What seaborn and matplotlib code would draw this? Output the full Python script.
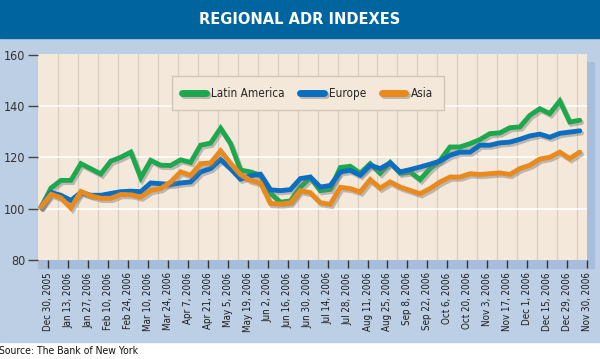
import numpy as np
import pandas as pd
import matplotlib
matplotlib.use("Agg")
import matplotlib.pyplot as plt
import matplotlib.patheffects as pe
from matplotlib.patches import Rectangle
import seaborn as sns

# ---- data (weekly index values) ----
regions = ["Latin America", "Europe", "Asia"]
colors = ["#1ea84e", "#0b6ec0", "#e88a1e"]

latin = [100.5, 108, 111, 111, 117.5, 115.5, 113.5, 118.5, 120, 122,
         112, 118.8, 116.9, 116.8, 119, 118, 124.7, 125.5, 131.3, 125.3,
         115, 114.3, 113, 106, 102.5, 103, 108.4, 112, 107, 107.5,
         116, 116.5, 113.8, 117.5, 113.8, 118, 113.8, 114.3, 111.3, 115.6,
         118.8, 124, 124, 125.3, 126.9, 129.2, 129.5, 131.5, 131.8, 136.3,
         138.9, 137, 141.9, 133.7, 134.4]
europe = [100.6, 106.3, 105.2, 103.2, 106.3, 105.2, 105.2, 105.9, 106.6, 106.8,
          106.6, 110, 109.7, 109.4, 110, 110.4, 114.3, 115.6, 119.1, 115.6,
          111.5, 112.8, 113.4, 107.3, 107, 107.4, 111.7, 112.3, 108.4, 109,
          114.3, 114.9, 113, 116.9, 115.6, 117.8, 114.3, 115.2, 116.2, 117.3,
          118.5, 120.8, 122, 122, 124.7, 124.7, 125.6, 125.9, 127, 128.3,
          129, 127.8, 129.3, 129.8, 130.3]
asia = [100.6, 105.6, 104.2, 100.3, 106.7, 105, 104, 104, 105.5, 105.4,
        104.5, 107.1, 107.8, 110.4, 114.3, 113, 117.5, 117.8, 122.5, 117.6,
        113.3, 111, 110, 102, 101.8, 102.2, 107, 106.2, 102.3, 101.7,
        108.3, 107.8, 106.5, 111.3, 108, 110.4, 108.4, 107.1, 105.8, 107.8,
        110.4, 112.3, 112.3, 113.6, 113.3, 113.6, 113.9, 113.3, 115.6, 116.9,
        119.3, 120, 122, 119.5, 122]

tick_labels = ["Dec 30, 2005", "Jan 13, 2006", "Jan 27, 2006", "Feb 10, 2006",
               "Feb 24, 2006", "Mar 10, 2006", "Mar 24, 2006", "Apr 7, 2006",
               "Apr 21, 2006", "May 5, 2006", "May 19, 2006", "Jun 2, 2006",
               "Jun 16, 2006", "Jun 30, 2006", "Jul 14, 2006", "Jul 28, 2006",
               "Aug 11, 2006", "Aug 25, 2006", "Sep 8, 2006", "Sep 22, 2006",
               "Oct 6, 2006", "Oct 20, 2006", "Nov 3, 2006", "Nov 17, 2006",
               "Dec 1, 2006", "Dec 15, 2006", "Dec 29, 2006", "Nov 30, 2006"]
y_ticks = [80, 100, 120, 140, 160]

weeks = np.arange(len(latin))
df = pd.DataFrame({
    "week": np.tile(weeks, 3),
    "value": np.concatenate([latin, europe, asia]),
    "region": np.repeat(regions, len(weeks)),
})

sns.set_theme(style="white")
plt.rcParams["font.family"] = ["DejaVu Sans"]
plt.rcParams["font.stretch"] = "condensed"

W, H = 600, 359
fig = plt.figure(figsize=(6, 3.59), dpi=100, facecolor="white")


def fx(px):
    return px / W


def fy(py):
    return 1 - py / H


# background panels
fig.patches.append(Rectangle((0, fy(342)), 1, (342 - 38) / H, transform=fig.transFigure,
                             color="#bdcfe4", zorder=-3))
fig.patches.append(Rectangle((0, fy(38)), 1, 38 / H, transform=fig.transFigure,
                             color="#00659e", zorder=-2))
fig.patches.append(Rectangle((fx(38), fy(268)), (594 - 38) / W, (268 - 62) / H,
                             transform=fig.transFigure, color="#a6bedb", zorder=-1))
fig.text(0.5, fy(19.5), "REGIONAL ADR INDEXES", color="white", fontsize=10.5,
         fontweight="bold", ha="center", va="center", fontstretch="normal")
fig.text(fx(-1), fy(351), "Source: The Bank of New York", fontsize=7.5,
         color="#111111", ha="left", va="center")

ax = fig.add_axes([fx(38), fy(260), (587 - 38) / W, (260 - 54) / H])
ax.set_facecolor("#f4e8da")

sns.lineplot(data=df, x="week", y="value", hue="region", hue_order=regions,
             palette=colors, linewidth=3.5, ax=ax, legend=True)
for line in ax.lines:
    line.set_path_effects([pe.SimpleLineShadow(offset=(1.3, -1.6), shadow_color="#7a7a7a", alpha=0.45),
                           pe.Normal()])
    line.set_solid_joinstyle("miter")

# grid
for v in [100, 120, 140]:
    ax.axhline(v, color="white", lw=1.1, zorder=0.5)
xt = 0.73 + 2 * np.arange(len(tick_labels))
for xv in xt[:-1] + 1:
    ax.axvline(xv, color="#d8cdc1", lw=0.9, zorder=0.4)

ax.set_xlim(-0.3, xt[-1])
ax.set_ylim(80, 160.2)
ax.set_yticks(y_ticks)
ax.set_xticks(xt)
ax.set_xticklabels(tick_labels, rotation=90, fontsize=7, color="#1a1a1a")
ax.tick_params(axis="x", bottom=True, length=6, width=1, color="#333333", pad=3)
ax.tick_params(axis="y", left=True, length=7, width=1, color="#444444", pad=2,
               labelsize=9, labelcolor="#333333")
ax.set_xlabel("")
ax.set_ylabel("")
for s in ax.spines.values():
    s.set_visible(False)

handles, labels = ax.get_legend_handles_labels()
leg = ax.legend(handles, labels, ncol=3, loc="center", bbox_to_anchor=(0.491, 0.81),
                frameon=True, fancybox=False, edgecolor="#cfc5b9", facecolor="#f4e8da",
                framealpha=1, fontsize=8.5, handlelength=2.0, handletextpad=0.45,
                columnspacing=1.3, borderpad=0.9)
for h in leg.get_lines():
    h.set_linewidth(5)
leg.get_frame().set_linewidth(1)

fig.savefig("out.png", dpi=100, facecolor="white")
